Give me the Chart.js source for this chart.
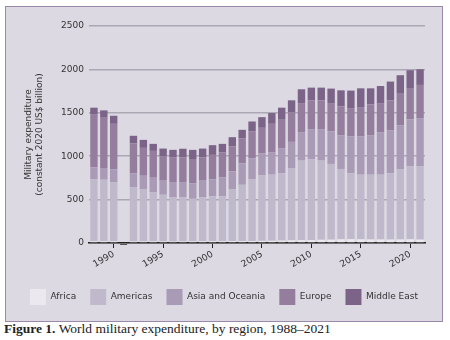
<!DOCTYPE html>
<html>
<head>
<meta charset="utf-8">
<title>World military expenditure, by region</title>
<script src="https://cdn.jsdelivr.net/npm/chart.js@4.4.0/dist/chart.umd.min.js"></script>
<style>
	body { margin: 0; background: #fff; width: 450px; height: 340px; overflow: hidden; }
	#panel { position: absolute; left: 5px; top: 6px; width: 436px; height: 314px; background: #dcd9e3; border: 1px solid #9a8aa9; }
	#caption { position: absolute; left: 4px; top: 321px; font: 13.5px "Liberation Serif", serif; color: #222; white-space: nowrap; }
	#caption b { font-weight: bold; }
</style>
</head>
<body>
<div id="panel"><canvas id="milexChart"></canvas></div>
<div id="caption"><b>Figure 1.</b> World military expenditure, by region, 1988–2021</div>
<script>
//world military expenditure by region, constant 2020 US$ billion (1991 has no data)

const years = [1988, 1989, 1990, 1991, 1992, 1993, 1994, 1995, 1996, 1997, 1998, 1999, 2000,
	2001, 2002, 2003, 2004, 2005, 2006, 2007, 2008, 2009, 2010, 2011, 2012, 2013, 2014,
	2015, 2016, 2017, 2018, 2019, 2020, 2021];

const africa = [20, 19, 19, null, 17, 17, 18, 17, 16, 17, 18, 19, 20,
	20, 21, 21, 23, 24, 25, 27, 30, 32, 33, 37, 38, 42, 44,
	42, 40, 40, 39, 40, 42, 39];

const americas = [717, 710, 683, null, 623, 600, 569, 539, 509, 508, 491, 506, 520,
	520, 596, 650, 710, 755, 762, 776, 834, 917, 932, 912, 873, 811, 759,
	745, 747, 747, 764, 809, 841, 844];

const asiaOceania = [135, 135, 147, null, 163, 158, 165, 162, 177, 177, 178, 193, 193,
	216, 209, 247, 243, 255, 255, 285, 301, 328, 347, 363, 374, 389, 424,
	440, 455, 486, 493, 509, 541, 556];

const europe = [606, 579, 524, null, 343, 321, 309, 277, 282, 286, 281, 270, 282,
	286, 289, 289, 312, 293, 331, 332, 343, 335, 332, 332, 327, 332, 327,
	339, 355, 332, 348, 370, 362, 382];

const middleEast = [81, 85, 93, null, 89, 92, 81, 93, 89, 98, 105, 100, 112,
	100, 104, 97, 112, 123, 124, 139, 136, 159, 146, 146, 167, 185, 202,
	216, 185, 204, 216, 205, 205, 181];

const regions = ['Africa', 'Americas', 'Asia and Oceania', 'Europe', 'Middle East'];
const regionColors = ['#ebe9ef', '#c0b9cb', '#a99ab5', '#957d9e', '#7b6488'];
const yTicks = [0, 500, 1000, 1500, 2000, 2500];

const textFont = { family: 'DejaVu Sans', size: 9 };

//stacked datasets, Africa at the bottom

const series = [africa, americas, asiaOceania, europe, middleEast];
const datasets = series.map((values, i) => ({
	label: regions[i],
	data: values,
	backgroundColor: regionColors[i],
	borderWidth: 0,
	barPercentage: 0.75,
	categoryPercentage: 1
}));

//short dash on the baseline where a year has no data

const missingYearPlugin = {
	id: 'missingYear',
	afterDatasetsDraw(chart) {
		const ctx = chart.ctx;
		const x = chart.scales.x;
		const y0 = chart.scales.y.getPixelForValue(0);
		ctx.save();
		ctx.strokeStyle = '#555';
		ctx.lineWidth = 1;
		years.forEach((yr, i) => {
			if (americas[i] === null) {
				const px = x.getPixelForValue(i);
				ctx.beginPath();
				ctx.moveTo(px - 3.5, y0 + 1.5);
				ctx.lineTo(px + 3.5, y0 + 1.5);
				ctx.stroke();
			}
		});
		ctx.restore();
	}
};

const config = {
	type: 'bar',
	data: { labels: years.map(String), datasets: datasets },
	options: {
		responsive: true,
		maintainAspectRatio: false,
		animation: false,
		layout: { padding: { left: 0, right: 0, top: 19, bottom: 6 } },
		plugins: {
			legend: {
				position: 'bottom',
				labels: {
					boxWidth: 16,
					boxHeight: 16,
					padding: 14,
					font: textFont,
					color: '#333'
				}
			},
			tooltip: { enabled: false }
		},
		scales: {
			x: {
				stacked: true,
				offset: true,
				afterFit: (scale) => { scale.height = 32; },
				grid: {
					offset: false,
					drawOnChartArea: false,
					drawTicks: true,
					tickLength: 5,
					lineWidth: 1,
					color: (c) => (years[c.index] % 5 === 0 ? '#222' : 'rgba(0,0,0,0)')
				},
				border: { display: true, color: '#222', width: 1.5 },
				ticks: {
					autoSkip: false,
					minRotation: 30,
					maxRotation: 30,
					padding: 1,
					font: textFont,
					color: '#333',
					callback: (v, i) => (years[i] % 5 === 0 ? String(years[i]) : '')
				}
			},
			y: {
				stacked: true,
				min: yTicks[0],
				max: yTicks[yTicks.length - 1],
				afterFit: (scale) => { scale.width = 83; },
				afterBuildTicks: (scale) => { scale.ticks = yTicks.map(v => ({ value: v })); },
				grid: { color: '#aba7b4', lineWidth: 1.5, drawTicks: false },
				border: { display: false },
				ticks: { font: textFont, color: '#333', padding: 5, callback: (v) => String(v) },
				title: {
					display: true,
					text: ['Military expenditure', '(constant 2020 US$ billion)'],
					font: textFont,
					color: '#333',
					padding: { top: 17, bottom: 2 }
				}
			},
			//empty right-hand axis keeps a margin beside the plot
			yRight: {
				position: 'right',
				display: true,
				afterFit: (scale) => { scale.width = 17; },
				grid: { display: false },
				border: { display: false },
				ticks: { display: false }
			}
		}
	},
	plugins: [missingYearPlugin]
};

const ctx = document.getElementById('milexChart').getContext('2d');
const chart = new Chart(ctx, config);
</script>
</body>
</html>
